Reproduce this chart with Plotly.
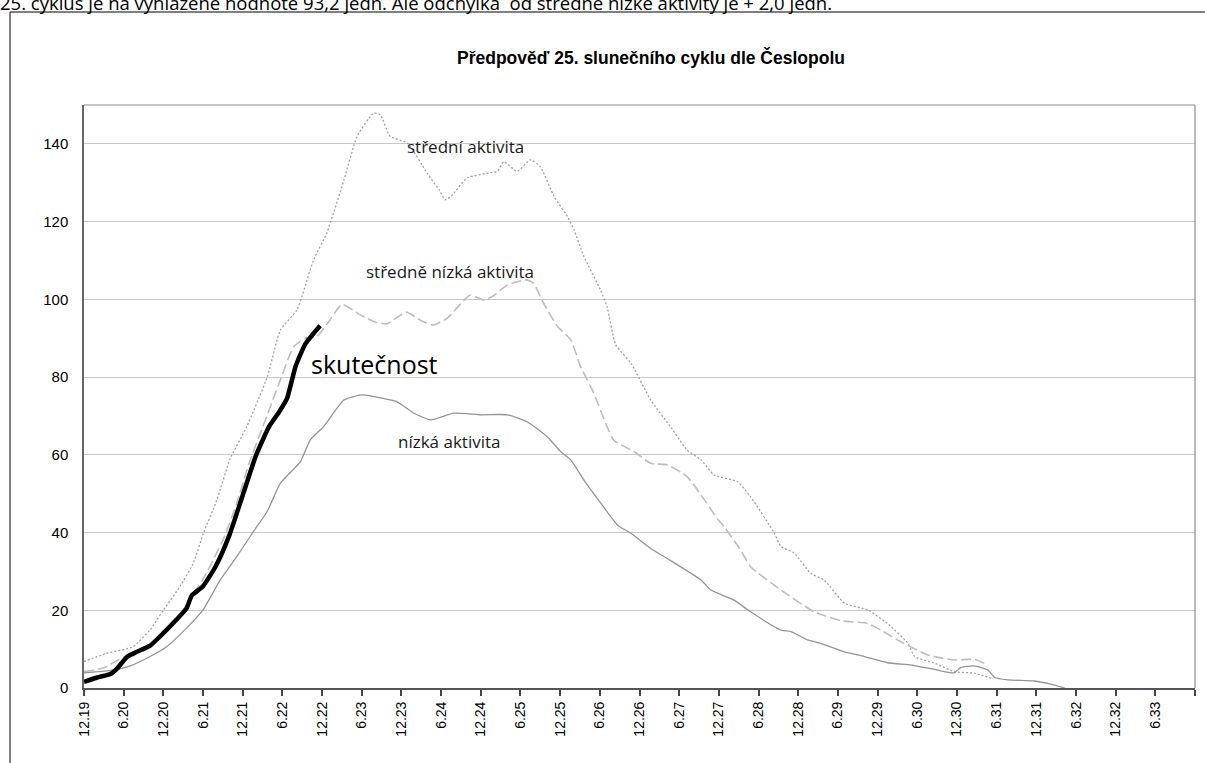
import plotly.graph_objects as go

# ---------------- data ----------------
# x = months since 12.2019
tick_months = list(range(0, 169, 6))
tick_labels = ["12.19", "6.20", "12.20", "6.21", "12.21", "6.22", "12.22", "6.23",
               "12.23", "6.24", "12.24", "6.25", "12.25", "6.26", "12.26", "6.27",
               "12.27", "6.28", "12.28", "6.29", "12.29", "6.30", "12.30", "6.31",
               "12.31", "6.32", "12.32", "6.33", ""]
y_ticks = [0, 20, 40, 60, 80, 100, 120, 140, 150]
y_tick_labels = ["0", "20", "40", "60", "80", "100", "120", "140", ""]

mid_months = [0, 3.4, 7.4, 10, 12, 14.5, 16.5, 18.1, 20.1, 22.1, 24.6, 27.7, 29.7, 32.2,
              34.7, 36.7, 39.3, 41.3, 43.8, 44.8, 46.3, 48.9, 51.9, 53.7, 54.6, 55.5,
              57.9, 61.5, 62.5, 63.5, 65.5, 67.5, 69, 71.1, 73.1, 74.1, 75.6, 78.1, 79.1,
              80.4, 82.7, 85.7, 88.7, 91.2, 93.3, 95.3, 98.8, 100.8, 104.4, 105.4, 107.4,
              109.9, 111.9, 115, 118.5, 121.5, 124.6, 125.6, 128.6, 131.6, 134.6, 137.2]
mid_values = [6.8, 8.9, 10.6, 15, 20, 26.1, 32, 40, 48.4, 59, 67.2, 80, 92.1, 97.3,
              110.1, 117, 130.7, 141.9, 147.9, 147.5, 141.9, 140.2, 132.4, 128.2, 125.6, 126.5,
              131.2, 132.6, 132.9, 135.4, 132.9, 135.9, 134.1, 126.4, 121.3, 117.9, 111, 102.4, 98.1,
              88.3, 83.6, 74.1, 67.2, 61.2, 58.7, 54.8, 53.1, 49.2, 39.8, 36.4, 34.7,
              29.5, 27.8, 21.8, 20.1, 16.6, 11.5, 8.1, 6.4, 4.2, 3.8, 2.5]

midlow_months = [0, 3, 6, 9, 12, 15, 18, 21, 23, 25, 27, 29.7, 31.7, 33.5, 35.2, 37.2, 39,
                 41.8, 43.8, 45.8, 48.7, 51, 52.8, 54.9, 56.5, 58.4, 60.5, 62, 64, 67, 68,
                 69.5, 71.6, 73.6, 75.1, 77.1, 80.1, 83.2, 85.7, 88.2, 91.2, 93.3, 95.8, 96.8,
                 99.3, 100.8, 105.4, 110.4, 114.5, 118.5, 120.5, 123.5, 127.6, 131.6, 134.6, 136.7]
midlow_values = [4.2, 5.2, 8.0, 9.8, 14, 20, 28, 38, 47, 58, 67, 79.3, 87.8, 90, 90.4, 94.7, 98.7,
                 96, 94.3, 93.7, 96.7, 94.5, 93.4, 95.1, 98, 101.1, 99.8, 101, 103.7, 105, 104.1,
                 99, 93, 89.6, 82.7, 75.8, 63.8, 60.8, 57.8, 57.4, 54.4, 49.7, 43.5, 41.5,
                 35.5, 31.2, 25.2, 19.6, 17.3, 16.6, 14.9, 11.9, 8.5, 7.2, 7.4, 5.9]

low_months = [0, 4.4, 7, 10, 12.5, 15.5, 18, 20.6, 23.1, 25.6, 27.7, 29.7, 32.7, 34.2, 36.2,
              39.3, 42, 45.3, 47.3, 49.9, 52.4, 55.9, 60, 64, 67, 70, 72.1, 73.6, 75.6, 77.6,
              80.7, 82.7, 85.7, 88.5, 93.3, 94.8, 98.3, 100.8, 105.4, 106.9, 109.4, 111.4, 115,
              118, 121.5, 125.1, 128.6, 131.6, 132.6, 134.6, 136.7, 137.7, 139.7, 143.7, 146.2, 148.3]
low_values = [3.9, 4.6, 5.7, 8.1, 10.6, 15.4, 20.1, 27.8, 33.8, 40.2, 45.4, 52.7, 58.2, 63.8, 67.2,
              74.1, 75.4, 74.5, 73.7, 70.7, 69, 70.7, 70.3, 70.3, 68.5, 64.7, 60.8, 58.7, 53.5, 48.8,
              41.9, 39.8, 35.9, 33.0, 27.8, 25.2, 22.6, 19.6, 14.9, 14.5, 12.4, 11.5, 9.3,
              8.1, 6.5, 5.9, 4.8, 3.9, 5.3, 5.7, 4.6, 2.7, 2.1, 1.8, 1.0, 0]

actual_months = [0, 2, 4, 5, 6.5, 8, 10, 12, 14, 15.5, 16.3, 18, 20, 22, 24, 26, 28, 29.5,
                 30.7, 32, 33.5, 35.7]
actual_values = [1.6, 2.7, 3.6, 5.0, 8.0, 9.3, 10.9, 14.1, 17.6, 20.5, 23.8, 26.2, 31.6, 39.4,
                 49.6, 59.8, 67.3, 71.0, 74.5, 82.8, 88.6, 93.2]

title_text = "Předpověď 25. slunečního cyklu dle Česlopolu"
top_text = "25. cyklus je na vyhlazené hodnotě 93,2 jedn. Ale odchylka  od středně nízké aktivity je + 2,0 jedn."

# ---------------- layout geometry ----------------
W, H = 1205, 763
L, R, T, B = 84, 10, 105, 75
PW, PH = W - L - R, H - T - B


def px(x):
    return (x - L) / PW


def py(y):
    return (H - B - y) / PH


fig = go.Figure()
fig.add_trace(go.Scatter(x=mid_months, y=mid_values, mode="lines",
                         line=dict(color="#a0a0a0", width=1.3, dash="2px,2px", shape="spline", smoothing=0.5),
                         showlegend=False, hoverinfo="skip"))
fig.add_trace(go.Scatter(x=midlow_months, y=midlow_values, mode="lines",
                         line=dict(color="#bdbdbd", width=1.6, dash="10px,4px", shape="spline", smoothing=0.5),
                         showlegend=False, hoverinfo="skip"))
fig.add_trace(go.Scatter(x=low_months, y=low_values, mode="lines",
                         line=dict(color="#949494", width=1.3, shape="spline", smoothing=0.5),
                         showlegend=False, hoverinfo="skip"))
fig.add_trace(go.Scatter(x=actual_months, y=actual_values, mode="lines",
                         line=dict(color="#000000", width=4.5, shape="spline", smoothing=0.5),
                         showlegend=False, hoverinfo="skip"))

label_font = dict(family="Open Sans, Noto Sans, sans-serif", size=17, color="#1a1a1a")
fig.add_annotation(x=57.7, y=139.3, xref="x", yref="y", text="střední aktivita",
                   showarrow=False, font=label_font)
fig.add_annotation(x=55.4, y=107.2, xref="x", yref="y", text="středně nízká aktivita",
                   showarrow=False, font=label_font)
fig.add_annotation(x=55.2, y=63.4, xref="x", yref="y", text="nízká aktivita",
                   showarrow=False, font=label_font)
fig.add_annotation(x=34.0, y=83.3, xref="x", yref="y", text="skutečnost", xanchor="left",
                   showarrow=False, font=dict(family="Open Sans, Noto Sans, sans-serif", size=25, color="#000000"))

fig.add_annotation(x=px(651), y=py(45), xref="paper", yref="paper", text="<b>" + title_text + "</b>",
                   showarrow=False, font=dict(family="Liberation Sans, Arial", size=17.5, color="#000000"))
fig.add_annotation(x=px(-2), y=py(17), xref="paper", yref="paper", text=top_text,
                   xanchor="left", yanchor="bottom", showarrow=False,
                   font=dict(family="Open Sans, Noto Sans, sans-serif", size=18.5, color="#000000"))

# chart frame (outer) and plot area border (top/right)
fig.add_shape(type="line", xref="paper", yref="paper", x0=px(10), x1=px(1215), y0=py(12), y1=py(12),
              line=dict(color="#000000", width=1))
fig.add_shape(type="line", xref="paper", yref="paper", x0=px(10), x1=px(10), y0=py(12), y1=py(780),
              line=dict(color="#000000", width=1))
fig.add_shape(type="line", xref="paper", yref="paper", x0=1, x1=1, y0=0, y1=1,
              line=dict(color="#8c8c8c", width=1.2))
fig.add_shape(type="line", xref="paper", yref="paper", x0=0, x1=1, y0=1, y1=1,
              line=dict(color="#b0b0b0", width=1.3))

fig.update_layout(
    width=W, height=H,
    margin=dict(l=L, r=R, t=T, b=B),
    paper_bgcolor="white", plot_bgcolor="white",
    showlegend=False,
    xaxis=dict(range=[0, 168], tickmode="array", tickvals=tick_months, ticktext=tick_labels,
               tickangle=-90, ticks="outside", ticklen=6, tickwidth=1.5, tickcolor="#444444",
               showgrid=False, zeroline=False, showline=True, linecolor="#555555", linewidth=2,
               tickfont=dict(family="Liberation Sans, Arial", size=14, color="#000000")),
    yaxis=dict(range=[0, 150], tickmode="array", tickvals=y_ticks, ticktext=y_tick_labels,
               showgrid=True, gridcolor="#c8c8c8", gridwidth=1.3, zeroline=False,
               showline=True, linecolor="#666666", linewidth=1.5,
               ticks="outside", ticklen=11, tickcolor="rgba(0,0,0,0)",
               tickfont=dict(family="Liberation Sans, Arial", size=15, color="#000000")),
)

fig.write_html("out.html", config={"displayModeBar": False},
               post_script="document.body.style.margin='0px';")
